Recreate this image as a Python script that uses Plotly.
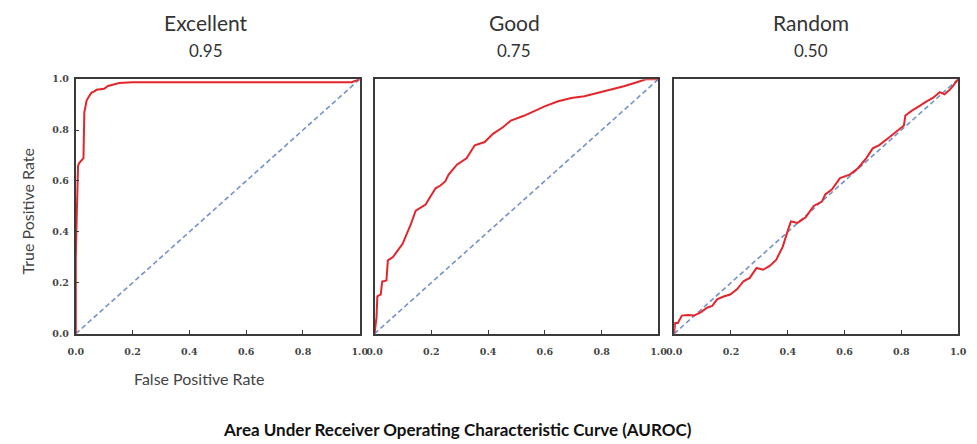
import plotly.graph_objects as go

# ---------------- data ----------------
panel_titles = ["Excellent", "Good", "Random"]
auc_labels = ["0.95", "0.75", "0.50"]
tick_vals = [0.0, 0.2, 0.4, 0.6, 0.8, 1.0]
tick_text = ["0.0", "0.2", "0.4", "0.6", "0.8", "1.0"]

diag_x = [0.0, 1.0]
diag_y = [0.0, 1.0]

excellent_fpr = [0.0, 0.0, 0.003, 0.005, 0.007, 0.008, 0.012, 0.018, 0.027, 0.03, 0.033,
                 0.038, 0.045, 0.055, 0.065, 0.073, 0.1, 0.113, 0.13, 0.153, 0.2, 0.5, 0.972, 1.0]
excellent_tpr = [0.0, 0.3, 0.45, 0.55, 0.6, 0.66, 0.67, 0.68, 0.69, 0.87, 0.895,
                 0.916, 0.93, 0.946, 0.952, 0.958, 0.962, 0.973, 0.978, 0.985, 0.988, 0.988, 0.988, 1.0]

good_fpr = [0.0, 0.007, 0.01, 0.022, 0.027, 0.042, 0.047, 0.065, 0.082, 0.099, 0.111, 0.128,
            0.145, 0.163, 0.18, 0.197, 0.215, 0.232, 0.249, 0.261, 0.29, 0.324, 0.353, 0.388,
            0.417, 0.452, 0.48, 0.526, 0.561, 0.601, 0.647, 0.693, 0.739, 0.785, 0.832,
            0.878, 0.924, 0.958, 1.0]
good_tpr = [0.0, 0.064, 0.147, 0.154, 0.205, 0.209, 0.288, 0.301, 0.327, 0.353, 0.385, 0.43,
            0.483, 0.494, 0.507, 0.539, 0.571, 0.582, 0.598, 0.625, 0.664, 0.689, 0.74, 0.753,
            0.785, 0.811, 0.837, 0.856, 0.875, 0.894, 0.913, 0.926, 0.933, 0.946, 0.957,
            0.972, 0.988, 1.0, 1.0]

random_fpr = [0.0, 0.003, 0.013, 0.027, 0.047, 0.07, 0.093, 0.117, 0.134, 0.151, 0.174, 0.197,
              0.221, 0.244, 0.266, 0.29, 0.313, 0.336, 0.359, 0.382, 0.4, 0.411, 0.434, 0.463,
              0.491, 0.52, 0.532, 0.555, 0.584, 0.618, 0.647, 0.676, 0.699, 0.722, 0.751,
              0.78, 0.809, 0.814, 0.837, 0.866, 0.883, 0.912, 0.935, 0.952, 0.97, 0.981, 1.0]
random_tpr = [0.0, 0.042, 0.042, 0.071, 0.073, 0.071, 0.084, 0.103, 0.109, 0.135, 0.146, 0.154,
              0.174, 0.206, 0.219, 0.258, 0.251, 0.266, 0.29, 0.341, 0.405, 0.441, 0.435, 0.457,
              0.502, 0.519, 0.547, 0.566, 0.611, 0.625, 0.65, 0.689, 0.728, 0.741, 0.766,
              0.792, 0.818, 0.857, 0.876, 0.896, 0.909, 0.927, 0.949, 0.94, 0.958, 0.973, 1.0]

curves = [(excellent_fpr, excellent_tpr), (good_fpr, good_tpr), (random_fpr, random_tpr)]

# ---------------- figure ----------------
W, H = 977, 444
x_domains = [[69 / W, 358 / W], [373 / W, 662 / W], [678 / W, 967 / W]]
y_domain = [1 - 336 / H, 1 - 75 / H]

RED = "#e2262b"
DIAG = "#7393c8"
AX = "#3a3a3a"

fig = go.Figure()
for i, (fx, fy) in enumerate(curves):
    suffix = "" if i == 0 else str(i + 1)
    fig.add_trace(go.Scatter(x=diag_x, y=diag_y, mode="lines",
                             line=dict(color=DIAG, width=1.6, dash="5px,3px"),
                             xaxis="x" + suffix, yaxis="y" + suffix,
                             showlegend=False, hoverinfo="skip"))
    fig.add_trace(go.Scatter(x=fx, y=fy, mode="lines",
                             line=dict(color=RED, width=2, shape="linear"),
                             xaxis="x" + suffix, yaxis="y" + suffix,
                             showlegend=False))

tick_font = dict(family="DejaVu Serif", size=9.5, color="#444", weight="bold")
for i in range(3):
    suffix = "" if i == 0 else str(i + 1)
    fig.update_layout(**{
        "xaxis" + suffix: dict(domain=x_domains[i], range=[0, 1], anchor="y" + suffix,
                               tickvals=tick_vals, ticktext=tick_text, ticks="inside",
                               ticklen=4, tickcolor=AX, showline=True, linecolor=AX,
                               linewidth=2, mirror=True, showgrid=False, zeroline=False,
                               tickfont=tick_font, ticklabelstandoff=8, fixedrange=True),
        "yaxis" + suffix: dict(domain=y_domain, range=[0, 1], anchor="x" + suffix,
                               tickvals=tick_vals, ticktext=tick_text,
                               ticks="inside" if i == 0 else "",
                               ticklen=3, tickcolor=AX, showline=True, linecolor=AX,
                               linewidth=2, mirror=True, showgrid=False, zeroline=False,
                               showticklabels=(i == 0), tickfont=tick_font,
                               ticklabelstandoff=3, fixedrange=True),
    })

annotations = []
title_x = [202, 515, 817]
for i in range(3):
    annotations.append(dict(x=title_x[i] / W, y=1 - 17 / H, xref="paper", yref="paper",
                            text=panel_titles[i], showarrow=False,
                            font=dict(family="Lato", size=21, color="#333"),
                            xanchor="center", yanchor="middle"))
    annotations.append(dict(x=title_x[i] / W, y=1 - 46 / H, xref="paper", yref="paper",
                            text=auc_labels[i], showarrow=False,
                            font=dict(family="Lato", size=17, color="#333"),
                            xanchor="center", yanchor="middle"))
annotations.append(dict(x=194 / W, y=1 - 382 / H, xref="paper", yref="paper",
                        text="False Positive Rate", showarrow=False,
                        font=dict(family="Lato", size=16, color="#444"),
                        xanchor="center", yanchor="middle"))
annotations.append(dict(x=20 / W, y=1 - 211 / H, xref="paper", yref="paper",
                        text="True Positive Rate", showarrow=False, textangle=-90,
                        font=dict(family="Lato", size=16, color="#444"),
                        xanchor="center", yanchor="middle"))
annotations.append(dict(x=457 / W, y=1 - 434 / H, xref="paper", yref="paper",
                        text="<b>Area Under Receiver Operating Characteristic Curve (AUROC)</b>",
                        showarrow=False,
                        font=dict(family="Lato", size=17, color="#111"),
                        xanchor="center", yanchor="middle"))

fig.update_layout(width=W, height=H, margin=dict(l=0, r=0, t=0, b=0),
                  paper_bgcolor="white", plot_bgcolor="white",
                  annotations=annotations, showlegend=False)

fig.write_html("out.html", config={"displayModeBar": False},
               post_script="document.body.style.margin='0';document.body.style.overflow='hidden';")
